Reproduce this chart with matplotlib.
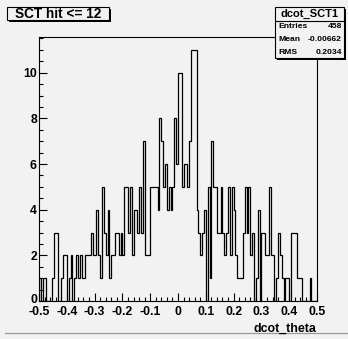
import numpy as np
import matplotlib
matplotlib.use("Agg")
import matplotlib.pyplot as plt
import matplotlib.transforms as mtransforms
from matplotlib.patches import Rectangle
from matplotlib.lines import Line2D

# ---- histogram content (150 bins on [-0.5, 0.5]) ----
counts = [
    1, 0, 1, 1, 0, 0, 0, 1, 3, 3,
    0, 0, 1, 2, 2, 0, 1, 2, 0, 1,
    2, 1, 2, 1, 1, 2, 2, 2, 3, 2,
    2, 4, 2, 1, 5, 3, 2, 4, 1, 2,
    2, 3, 3, 2, 3, 2, 5, 5, 3, 5,
    2, 4, 4, 3, 5, 3, 7, 2, 2, 2,
    5, 5, 5, 5, 4, 8, 7, 5, 6, 4,
    5, 4, 5, 8, 6, 10, 10, 5, 6, 6,
    5, 7, 11, 11, 11, 4, 3, 2, 3, 4,
    0, 5, 1, 7, 5, 5, 3, 3, 5, 3,
    2, 3, 5, 2, 5, 4, 2, 1, 1, 1,
    3, 5, 3, 5, 2, 3, 0, 1, 4, 0,
    3, 3, 2, 2, 5, 2, 2, 0, 1, 3,
    2, 1, 0, 1, 1, 0, 3, 3, 3, 1,
    1, 1, 0, 0, 0, 0, 1, 0, 0, 0,
]
x_lo, x_hi = -0.5, 0.5
x_ticks = [-0.5, -0.4, -0.3, -0.2, -0.1, 0.0, 0.1, 0.2, 0.3, 0.4, 0.5]
x_tick_labels = ["-0.5", "-0.4", "-0.3", "-0.2", "-0.1", "0",
                 "0.1", "0.2", "0.3", "0.4", "0.5"]
y_ticks = [0, 2, 4, 6, 8, 10]
y_tick_labels = ["0", "2", "4", "6", "8", "10"]

hist_name = "dcot_SCT1"
title_text = "SCT hit <= 12"
x_label = "dcot_theta"
stat_names = ["Entries", "Mean", "RMS"]
stat_values = ["458", "-0.00662", "0.2034"]

# ---- style ----
bg = "#f2f2f2"
plt.rcParams["font.family"] = ["Liberation Sans", "DejaVu Sans"]
plt.rcParams["font.weight"] = "bold"

W, H = 348, 339
fig = plt.figure(figsize=(W / 100, H / 100), dpi=100, facecolor=bg)


def fx(px):
    return px / W


def fy(py):
    return 1 - py / H


# frame (pixel box: left 39, right 317, top 37.3, bottom 301)
ax = fig.add_axes([fx(39), fy(301), fx(317) - fx(39), fy(37.3) - fy(301)])
ax.set_facecolor(bg)

edges = np.linspace(x_lo, x_hi, len(counts) + 1)
ax.stairs(counts, edges, color="black", lw=0.9, baseline=0)

ax.set_xlim(x_lo, x_hi)
ax.set_ylim(0, 1.05 * max(counts))

ax.set_xticks(x_ticks)
ax.set_xticklabels(x_tick_labels)
ax.set_xticks(np.arange(-0.5, 0.5001, 0.02), minor=True)
ax.set_yticks(y_ticks)
ax.set_yticklabels(y_tick_labels)
ax.set_yticks(np.arange(0, 11.51, 0.5), minor=True)

ax.tick_params(axis="both", which="both", direction="in", width=0.8,
               top=False, right=False, labelsize=8.8, colors="black")
ax.tick_params(axis="x", which="major", length=5.5, pad=3.3)
ax.tick_params(axis="x", which="minor", length=2.8)
ax.tick_params(axis="y", which="major", length=5.8, pad=1.5)
ax.tick_params(axis="y", which="minor", length=2.9)
for lbl in ax.get_xticklabels() + ax.get_yticklabels():
    lbl.set_fontweight("bold")

# lift the "0" of the y axis a little so it sits just above "-0.5"
zero_lbl = ax.get_yticklabels()[0]
zero_lbl.set_transform(zero_lbl.get_transform() +
                       mtransforms.ScaledTranslation(0, 2.0 / 72,
                                                     fig.dpi_scale_trans))

for sp in ax.spines.values():
    sp.set_linewidth(0.8)
    sp.set_color("black")

# x-axis title, right aligned at the end of the axis
fig.text(fx(316.5), fy(328.5), x_label, ha="right", va="center",
         fontsize=8.9, fontweight="bold")


def pave(x0, y0, x1, y1, shadow=2.0):
    """Box with a dark drop shadow in pixel coordinates."""
    fig.add_artist(Rectangle((fx(x0 + shadow), fy(y1 + shadow)),
                             fx(x1 - x0), fy(y0) - fy(y1),
                             transform=fig.transFigure, facecolor="black",
                             edgecolor="black", lw=0, zorder=5))
    fig.add_artist(Rectangle((fx(x0), fy(y1)), fx(x1 - x0), fy(y0) - fy(y1),
                             transform=fig.transFigure, facecolor=bg,
                             edgecolor="black", lw=0.8, zorder=6))


# title pave
pave(7.3, 7.3, 108.5, 19.5)
fig.text(fx(58), fy(13.6), title_text, ha="center", va="center",
         fontsize=9.8, fontweight="bold", zorder=7)

# statistics pave
sx0, sy0, sx1, sy1 = 275.3, 7.3, 343.5, 57.5
pave(sx0, sy0, sx1, sy1)
fig.add_artist(Line2D([fx(sx0), fx(sx1)], [fy(20.7), fy(20.7)],
                      transform=fig.transFigure, color="black", lw=0.8,
                      zorder=7))
fig.text(fx((sx0 + sx1) / 2), fy(13.8), hist_name, ha="center", va="center",
         fontsize=8.0, fontweight="bold", zorder=7)
for i, (name, val) in enumerate(zip(stat_names, stat_values)):
    yrow = 26.0 + 13.4 * i
    fig.text(fx(278.3), fy(yrow), name, ha="left", va="center",
             fontsize=6.1, fontweight="bold", zorder=7)
    fig.text(fx(342.0), fy(yrow), val, ha="right", va="center",
             fontsize=6.1, fontweight="bold", zorder=7)

# canvas bevel line along the bottom
fig.add_artist(Line2D([fx(5), fx(348)], [fy(333), fy(333)],
                      transform=fig.transFigure, color="#9a9a9a", lw=0.9))

fig.savefig("out.png", dpi=100, facecolor=bg)
